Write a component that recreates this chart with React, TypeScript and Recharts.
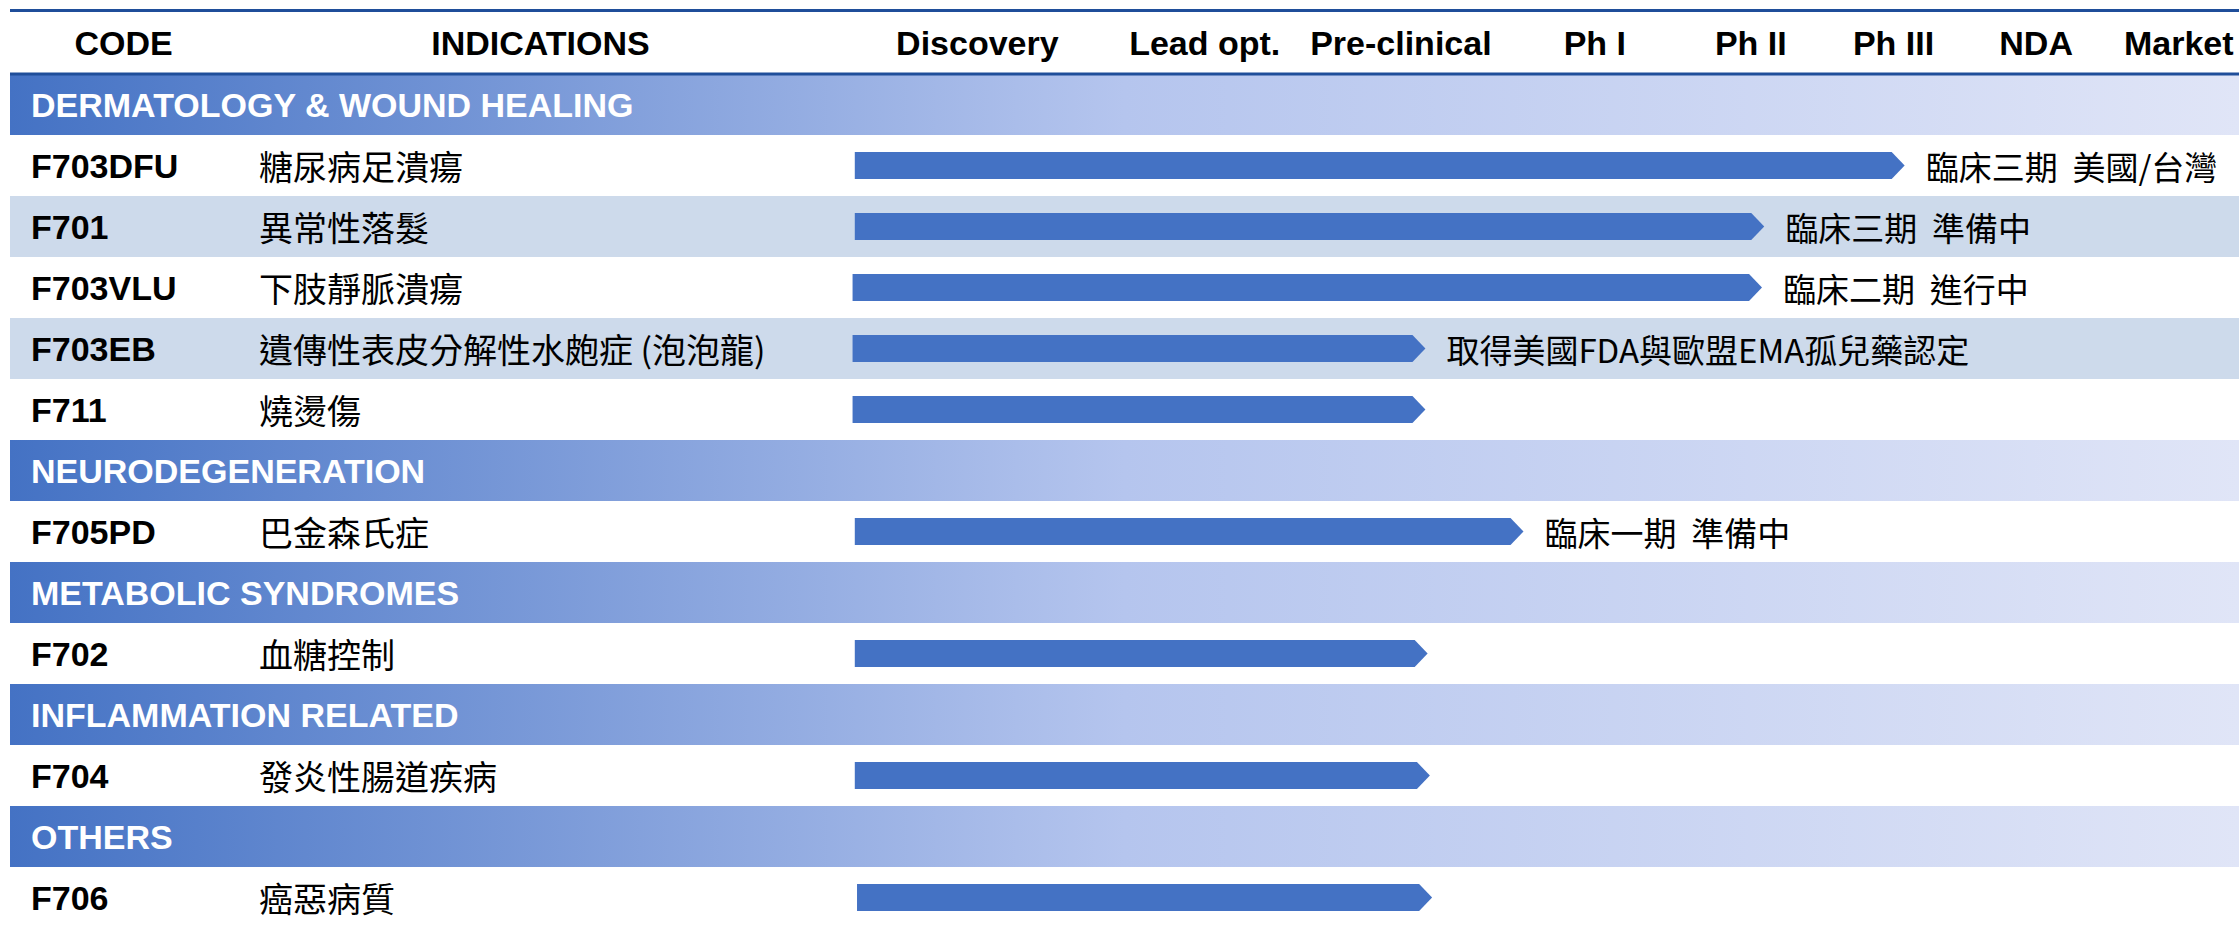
import { Bar, BarChart, LabelList, ReferenceArea, XAxis, YAxis } from "recharts";

// pipeline table: sections, compounds and how far each one has progressed
const sections = [
  "DERMATOLOGY & WOUND HEALING",
  "NEURODEGENERATION",
  "METABOLIC SYNDROMES",
  "INFLAMMATION RELATED",
  "OTHERS"
];
const sectionSizes = [5, 1, 1, 1, 1];

const codes = ["F703DFU", "F701", "F703VLU", "F703EB", "F711", "F705PD", "F702", "F704", "F706"];
const indications = [
  "糖尿病足潰瘍",
  "異常性落髮",
  "下肢靜脈潰瘍",
  "遺傳性表皮分解性水皰症 (泡泡龍)",
  "燒燙傷",
  "巴金森氏症",
  "血糖控制",
  "發炎性腸道疾病",
  "癌惡病質"
];
// progress along the stage axis (0-100)
const progressStart = [37.9, 37.9, 37.8, 37.8, 37.8, 37.9, 37.9, 37.9, 38.0];
const progressEnd = [85.0, 78.7, 78.6, 63.5, 63.5, 67.9, 63.6, 63.7, 63.8];
const notes = [
  "臨床三期  美國/台灣",
  "臨床三期  準備中",
  "臨床二期  進行中",
  "取得美國FDA與歐盟EMA孤兒藥認定",
  "",
  "臨床一期  準備中",
  "",
  "",
  ""
];
const shadedCodes = ["F701", "F703EB"];

const headerLabels = ["CODE", "INDICATIONS", "Discovery", "Lead opt.", "Pre-clinical", "Ph I", "Ph II", "Ph III", "NDA", "Market"];
const headerPos = [5.1, 23.8, 43.4, 53.6, 62.4, 71.1, 78.1, 84.5, 90.9, 97.3];

const BAR = "#4472C4";
const LINE = "#1F4E9A";
const SHADE = "#CDDAEB";
const LATIN = "'Liberation Sans', Arial, sans-serif";
const CJK = "'Noto Sans CJK TC', 'Noto Sans CJK SC', sans-serif";

type Row = {
  id: string;
  section?: string;
  code?: string;
  indication?: string;
  range?: [number, number];
  note?: string;
};

const rows: Row[] = [];
let k = 0;
sections.forEach((s, i) => {
  rows.push({ id: "sec" + i, section: s });
  for (let j = 0; j < sectionSizes[i]; j++, k++) {
    rows.push({
      id: codes[k],
      code: codes[k],
      indication: indications[k],
      range: [progressStart[k], progressEnd[k]],
      note: notes[k] || undefined
    });
  }
});
const rowById: Record<string, Row> = Object.fromEntries(rows.map((r) => [r.id, r]));

const CODE_X = 31;
const IND_X = 259;

function RowLabel(props: any) {
  const { y, payload } = props;
  const row = rowById[payload.value];
  if (!row) return null;
  if (row.section) {
    return (
      <text x={CODE_X} y={y} dominantBaseline="central" fill="#fff" fontFamily={LATIN} fontWeight={700} fontSize={34}>
        {row.section}
      </text>
    );
  }
  return (
    <g>
      <text x={CODE_X} y={y} dominantBaseline="central" fill="#000" fontFamily={LATIN} fontWeight={700} fontSize={34}>
        {row.code}
      </text>
      <text x={IND_X} y={y} dominantBaseline="central" fill="#000" fontFamily={CJK} fontSize={34}>
        {row.indication}
      </text>
    </g>
  );
}

function HeaderTick(props: any) {
  const { x, y, payload } = props;
  const label = headerLabels[headerPos.indexOf(payload.value)];
  return (
    <text x={x} y={y - 31} textAnchor="middle" dominantBaseline="central" fill="#000" fontFamily={LATIN} fontWeight={700} fontSize={34}>
      {label}
    </text>
  );
}

// pentagon arrow: flat body with a pointed right end
function ArrowBar(props: any) {
  const { x, y, width, height, fill } = props;
  if (!width || width <= 0) return null;
  const head = height * 0.48;
  const d = `M${x},${y} L${x + width - head},${y} L${x + width},${y + height / 2} L${x + width - head},${y + height} L${x},${y + height} Z`;
  return <path d={d} fill={fill} />;
}

function NoteLabel(props: any) {
  const { x, y, width, height, value } = props;
  if (!value) return null;
  return (
    <text
      x={x + width + 21}
      y={y + height / 2}
      dominantBaseline="central"
      fill="#000"
      fontFamily={CJK}
      fontSize={33}
      style={{ whiteSpace: "pre" }}
    >
      {value}
    </text>
  );
}

export default function App() {
  return (
    <div style={{ position: "absolute", left: 0, top: 0, width: 2239, height: 928, background: "#fff" }}>
      {/* outer rule above the column headers */}
      <div style={{ position: "absolute", left: 10, right: 0, top: 9, height: 3, background: LINE }} />
      <svg width={0} height={0} style={{ position: "absolute" }}>
        <defs>
          <linearGradient id="sectionFill" x1="0" y1="0" x2="1" y2="0">
            <stop offset="0%" stopColor="#4472C4" />
            <stop offset="50%" stopColor="#B5C5EE" />
            <stop offset="100%" stopColor="#E0E5F7" />
          </linearGradient>
        </defs>
      </svg>
      <BarChart
        width={2239}
        height={928}
        data={rows}
        layout="vertical"
        margin={{ top: 10, right: 0, bottom: 0, left: 0 }}
        barSize={27}
      >
        <XAxis
          xAxisId="stage"
          orientation="top"
          type="number"
          domain={[0, 100]}
          ticks={headerPos}
          interval={0}
          height={64}
          tickSize={0}
          tickMargin={0}
          tickLine={false}
          axisLine={{ stroke: LINE, strokeWidth: 3 }}
          tick={<HeaderTick />}
        />
        <YAxis
          type="category"
          dataKey="id"
          width={10}
          interval={0}
          axisLine={false}
          tickLine={false}
          tick={<RowLabel />}
        />
        {rows
          .filter((r) => r.section)
          .map((r) => (
            <ReferenceArea key={r.id} xAxisId="stage" y1={r.id} y2={r.id} fill="url(#sectionFill)" fillOpacity={1} stroke="none" />
          ))}
        {shadedCodes.map((c) => (
          <ReferenceArea key={c} xAxisId="stage" y1={c} y2={c} fill={SHADE} fillOpacity={1} stroke="none" />
        ))}
        <Bar xAxisId="stage" dataKey="range" fill={BAR} shape={<ArrowBar />} isAnimationActive={false}>
          <LabelList dataKey="note" content={<NoteLabel />} />
        </Bar>
      </BarChart>
    </div>
  );
}
